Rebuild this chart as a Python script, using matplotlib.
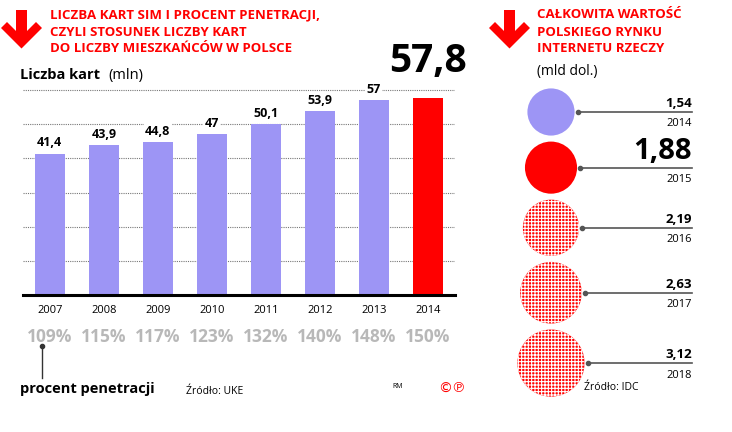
import numpy as np
import matplotlib
matplotlib.use("Agg")
import matplotlib.pyplot as plt
from matplotlib.patches import Circle, Polygon

plt.rcParams['font.family'] = ['Open Sans', 'DejaVu Sans']

# data
years = [2007, 2008, 2009, 2010, 2011, 2012, 2013, 2014]
cards = [41.4, 43.9, 44.8, 47, 50.1, 53.9, 57, 57.8]
penetration = [109, 115, 117, 123, 132, 140, 148, 150]
iot_years = [2014, 2015, 2016, 2017, 2018]
iot_values = [1.54, 1.88, 2.19, 2.63, 3.12]

RED = '#ff0000'
LAV = '#9d95f5'
W, H = 732, 432


def fmt(v):
    return f"{v:g}".replace('.', ',')


fig = plt.figure(figsize=(W / 100, H / 100), dpi=100)

# pixel-space overlay for decorations and the circle panel
ov = fig.add_axes([0, 0, 1, 1])
ov.set_xlim(0, W)
ov.set_ylim(H, 0)
ov.axis('off')


def arrow(x0, y0):
    pts = np.array([(16, 10), (27, 10), (27, 31), (36, 22), (42, 28), (21.5, 48.5),
                    (1, 28), (7, 22), (16, 31)], float)
    pts[:, 0] += x0
    pts[:, 1] += y0
    ov.add_patch(Polygon(pts, closed=True, color=RED, lw=0))


arrow(0, 0)
arrow(488, 0)

title_l = ["LICZBA KART SIM I PROCENT PENETRACJI,", "CZYLI STOSUNEK LICZBY KART",
           "DO LICZBY MIESZKAŃCÓW W POLSCE"]
for i, t in enumerate(title_l):
    ov.text(50, 15 + i * 17, t, color=RED, fontsize=9.5, fontweight='bold', va='center')
title_r = ["CAŁKOWITA WARTOŚĆ", "POLSKIEGO RYNKU", "INTERNETU RZECZY"]
for i, t in enumerate(title_r):
    ov.text(537, 15 + i * 17, t, color=RED, fontsize=9.5, fontweight='bold', va='center')

ov.text(20, 75, "Liczba kart", fontsize=10.5, fontweight='bold', va='center')
ov.text(108, 75, "(mln)", fontsize=10.5, va='center')
ov.text(537, 72, "(mld dol.)", fontsize=10, va='center')

# bar chart
ax = fig.add_axes([22.7 / W, 1 - 295 / H, (455 - 22.7) / W, (295 - 88) / H])
x = np.arange(len(years))
colors = [LAV] * (len(years) - 1) + [RED]
ax.bar(x, cards, width=0.55, color=colors, zorder=2)
ax.set_xlim(-0.5, len(years) - 0.5)
ax.set_ylim(0, 60.6)
ax.set_yticks([10, 20, 30, 40, 50, 60])
ax.yaxis.grid(True, linestyle=(0, (1, 1)), color='#777777', linewidth=0.8, zorder=0)
ax.set_axisbelow(True)
for s in ['top', 'right', 'left']:
    ax.spines[s].set_visible(False)
ax.spines['bottom'].set_linewidth(2.2)
ax.tick_params(left=False, labelleft=False, bottom=False, labelbottom=False)

for xi, v in zip(x[:-1], cards[:-1]):
    ax.text(xi, v + 1.2, fmt(v), ha='center', va='bottom', fontsize=9, fontweight='bold',
            bbox=dict(facecolor='white', edgecolor='none', pad=1), zorder=3)
ax.text(x[-1], 68.5, fmt(cards[-1]), ha='center', va='center', fontsize=28,
        fontweight='bold', clip_on=False)

for xi, y, p in zip(x, years, penetration):
    ax.annotate(str(y), (xi, 0), xytext=(0, -11), textcoords='offset points',
                ha='center', va='center', fontsize=8)
    ax.annotate(f"{p}%", (xi, 0), xytext=(0, -30), textcoords='offset points',
                ha='center', va='center', fontsize=12.5, fontweight='bold', color='#b8b8b8')

ov.plot([42, 42], [346, 378], color='#333333', lw=1)
ov.plot([42], [346], 'o', color='#333333', ms=3)
ov.text(20, 389, "procent penetracji", fontsize=10.5, fontweight='bold', va='center')
ov.text(186, 392, "Źródło: UKE", fontsize=7.5, va='center')
ov.text(392, 387, "RM", fontsize=5, va='center')
ov.text(438, 388, "©℗", fontsize=10, color=RED, va='center', family=['DejaVu Sans'])

# circles (area proportional to value)
cx = 551
radii = 19 * np.sqrt(np.array(iot_values))
cy = [112]
for i in range(1, len(radii)):
    cy.append(cy[-1] + radii[i - 1] + radii[i] + 6)
plt.rcParams['hatch.linewidth'] = 0.8
plt.rcParams['hatch.color'] = 'white'
for i, (yr, v, r, yc) in enumerate(zip(iot_years, iot_values, radii, cy)):
    if i == 0:
        ov.add_patch(Circle((cx, yc), r, color=LAV, lw=0))
    elif i == 1:
        ov.add_patch(Circle((cx, yc), r, color=RED, lw=0))
    else:
        ov.add_patch(Circle((cx, yc), r, facecolor=RED, edgecolor='white', lw=0,
                            hatch='+++++'))
    x0 = cx + r + 3
    ov.plot([x0, 692], [yc, yc], color='#555555', lw=1.2)
    ov.plot([x0], [yc], 'o', color='#555555', ms=3)
    big = i == 1
    ov.text(692, yc - 2, fmt(v), ha='right', va='bottom', fontsize=21 if big else 9.5,
            fontweight='bold')
    ov.text(692, yc + 12, str(yr), ha='right', va='center', fontsize=8)

ov.text(584, 388, "Źródło: IDC", fontsize=7.5, va='center')

fig.savefig("out.png", dpi=100)
